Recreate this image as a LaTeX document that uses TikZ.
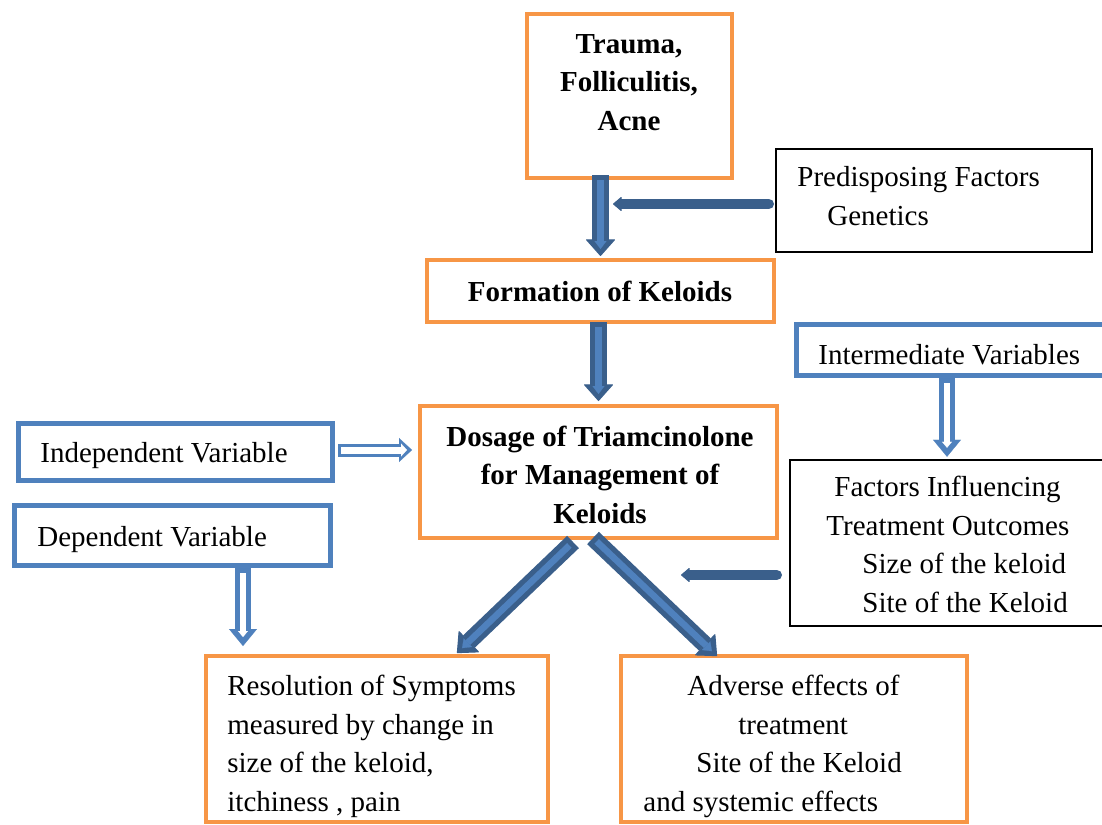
\documentclass[tikz,border=0pt]{standalone}
\usepackage{fontspec}
\setmainfont{Liberation Serif}
\usepackage{tikz}
\usetikzlibrary{arrows.meta, calc, positioning}

\definecolor{boxorange}{HTML}{F79646}
\definecolor{boxblue}{HTML}{4F81BD}
\definecolor{arrowdark}{HTML}{3A5F8B}
\definecolor{arrowlight}{HTML}{4F81BD}

\begin{document}
\begin{tikzpicture}[x=0.5pt, y=-0.5pt]
    \tikzset{
        obox/.style 2 args={draw=boxorange, line width=2pt, minimum width=#1, minimum height=#2, inner sep=0pt},
        bbox/.style 2 args={draw=boxblue, line width=2.5pt, minimum width=#1, minimum height=#2, inner sep=0pt},
        kbox/.style 2 args={draw=black, line width=1.25pt, minimum width=#1, minimum height=#2, inner sep=0pt},
        txt/.style={inner sep=0pt, align=left, font=\fontsize{14.5}{19.2}\selectfont},
        btxt/.style={inner sep=0pt, align=center, font=\fontsize{14.5}{19.2}\selectfont\bfseries},
        blockout/.style={draw=arrowdark, line width=8.5pt, line join=round,
            -{Triangle[width=15pt, length=8.5pt, line width=0.5pt, round]}},
        blockin/.style={draw=arrowlight, line width=3.25pt, shorten <=2.5pt, shorten >=3.5pt,
            -{Triangle[width=6pt, length=4pt, line width=0.1pt]}},
        thinarrow/.style={draw=arrowdark, line width=5.25pt, line cap=round,
            -{Triangle[width=7.5pt, length=4.5pt, line width=0.5pt, round]}},
        hollowout/.style={draw=boxblue, line width=8pt,
            -{Triangle[width=14pt, length=8.5pt, line width=0.1pt]}},
        hollowin/.style={draw=white, line width=3pt, shorten <=2.5pt, shorten >=4.5pt,
            -{Triangle[width=5pt, length=3pt, line width=0.1pt]}},
        smallout/.style={draw=boxblue, line width=6.5pt,
            -{Triangle[width=12pt, length=6.5pt, line width=0.1pt]}},
        smallin/.style={draw=white, line width=3.5pt, shorten <=1.5pt, shorten >=2.5pt,
            -{Triangle[width=6.5pt, length=3pt, line width=0.1pt]}}
    }

    \clip (0,0) rectangle (1102,824);
    \fill[white] (0,0) rectangle (1102,824);

    % boxes
    \node[obox={102.5pt}{82pt}] (trauma) at (629.5,96) {};
    \node[kbox={158pt}{51.5pt}] (pre) at (934,200.5) {};
    \node[obox={173.5pt}{31pt}] (formation) at (600.5,291) {};
    \node[bbox={167pt}{25.5pt}] (inter) at (963,350) {};
    \node[bbox={157pt}{28.5pt}] (indep) at (175.5,452) {};
    \node[obox={178.5pt}{66pt}] (dosage) at (598.5,472) {};
    \node[kbox={170pt}{83pt}] (factors) at (960,543) {};
    \node[bbox={158pt}{30pt}] (dep) at (172.5,535.5) {};
    \node[obox={171pt}{83pt}] (resolution) at (377,739) {};
    \node[obox={173pt}{83pt}] (adverse) at (794,739) {};

    % texts (base = last line)
    \node[btxt, anchor=base] (trauma-txt) at (629,130) {Trauma,\\Folliculitis,\\Acne};
    \node[txt, anchor=base west] (pre-txt) at (797,225) {Predisposing Factors\\\hspace*{15pt}Genetics};
    \node[btxt, anchor=base] (formation-txt) at (600,301) {Formation of Keloids};
    \node[txt, anchor=base west] (inter-txt) at (818,364) {Intermediate Variables};
    \node[txt, anchor=base west] (indep-txt) at (40,462) {Independent Variable};
    \node[btxt, anchor=base] (dosage-txt) at (600,523) {Dosage of Triamcinolone\\for Management of\\Keloids};
    \node[txt, anchor=base west] (factors-txt) at (826,612) {\hspace*{4pt}Factors Influencing\\Treatment Outcomes\\\hspace*{18pt}Size of the keloid\\\hspace*{18pt}Site of the Keloid};
    \node[txt, anchor=base west] (dep-txt) at (37,546) {Dependent Variable};
    \node[txt, anchor=base west] (resolution-txt) at (227,811) {Resolution of Symptoms\\measured by change in\\size of the keloid,\\itchiness , pain};
    \node[txt, anchor=base west] (adverse-txt) at (643,811) {\hspace*{22pt}Adverse effects of\\\hspace*{47.5pt}treatment\\\hspace*{26.5pt}Site of the Keloid\\and systemic effects};

    % block arrows
    \coordinate (a1s) at ($(formation.north |- trauma.south)+(0,-5)$);
    \coordinate (a1e) at ($(formation.north)+(0,-2)$);
    \draw[blockout] (a1s) -- (a1e);
    \draw[blockin] (a1s) -- (a1e);

    \coordinate (a2s) at ($(dosage.north |- formation.south)+(0,-2)$);
    \coordinate (a2e) at ($(dosage.north)+(0,-3)$);
    \draw[blockout] (a2s) -- (a2e);
    \draw[blockin] (a2s) -- (a2e);

    \coordinate (a3s) at ($(dosage.south)+(-25.5,2)$);
    \coordinate (a3e) at ($(resolution.north)+(80,-1)$);
    \draw[blockout] (a3s) -- (a3e);
    \draw[blockin] (a3s) -- (a3e);

    \coordinate (a4s) at ($(dosage.south)+(-5.5,-2)$);
    \coordinate (a4e) at ($(adverse.north)+(-77,2)$);
    \draw[blockout] (a4s) -- (a4e);
    \draw[blockin] (a4s) -- (a4e);

    % thin arrows
    \coordinate (gen-in) at (613,204);
    \draw[thinarrow] ($(pre.west |- gen-in)+(-6,0)$) -- (gen-in);
    \coordinate (size-in) at (681,575);
    \draw[thinarrow] ($(factors.west |- size-in)+(-12,0)$) -- (size-in);

    % hollow arrows
    \coordinate (i1s) at ($(indep.east)+(3,-2)$);
    \coordinate (i1e) at ($(indep.east -| dosage.west)+(-6,-2)$);
    \draw[smallout] (i1s) -- (i1e);
    \draw[smallin] (i1s) -- (i1e);

    \coordinate (ivx) at (947,0);
    \draw[hollowout] (ivx |- inter.south) -- ($(ivx |- factors.north)+(0,-2)$);
    \draw[hollowin] (ivx |- inter.south) -- ($(ivx |- factors.north)+(0,-2)$);

    \coordinate (dvx) at (243,0);
    \draw[hollowout] (dvx |- dep.south) -- ($(dvx |- resolution.north)+(0,-8)$);
    \draw[hollowin] (dvx |- dep.south) -- ($(dvx |- resolution.north)+(0,-8)$);
\end{tikzpicture}
\end{document}
